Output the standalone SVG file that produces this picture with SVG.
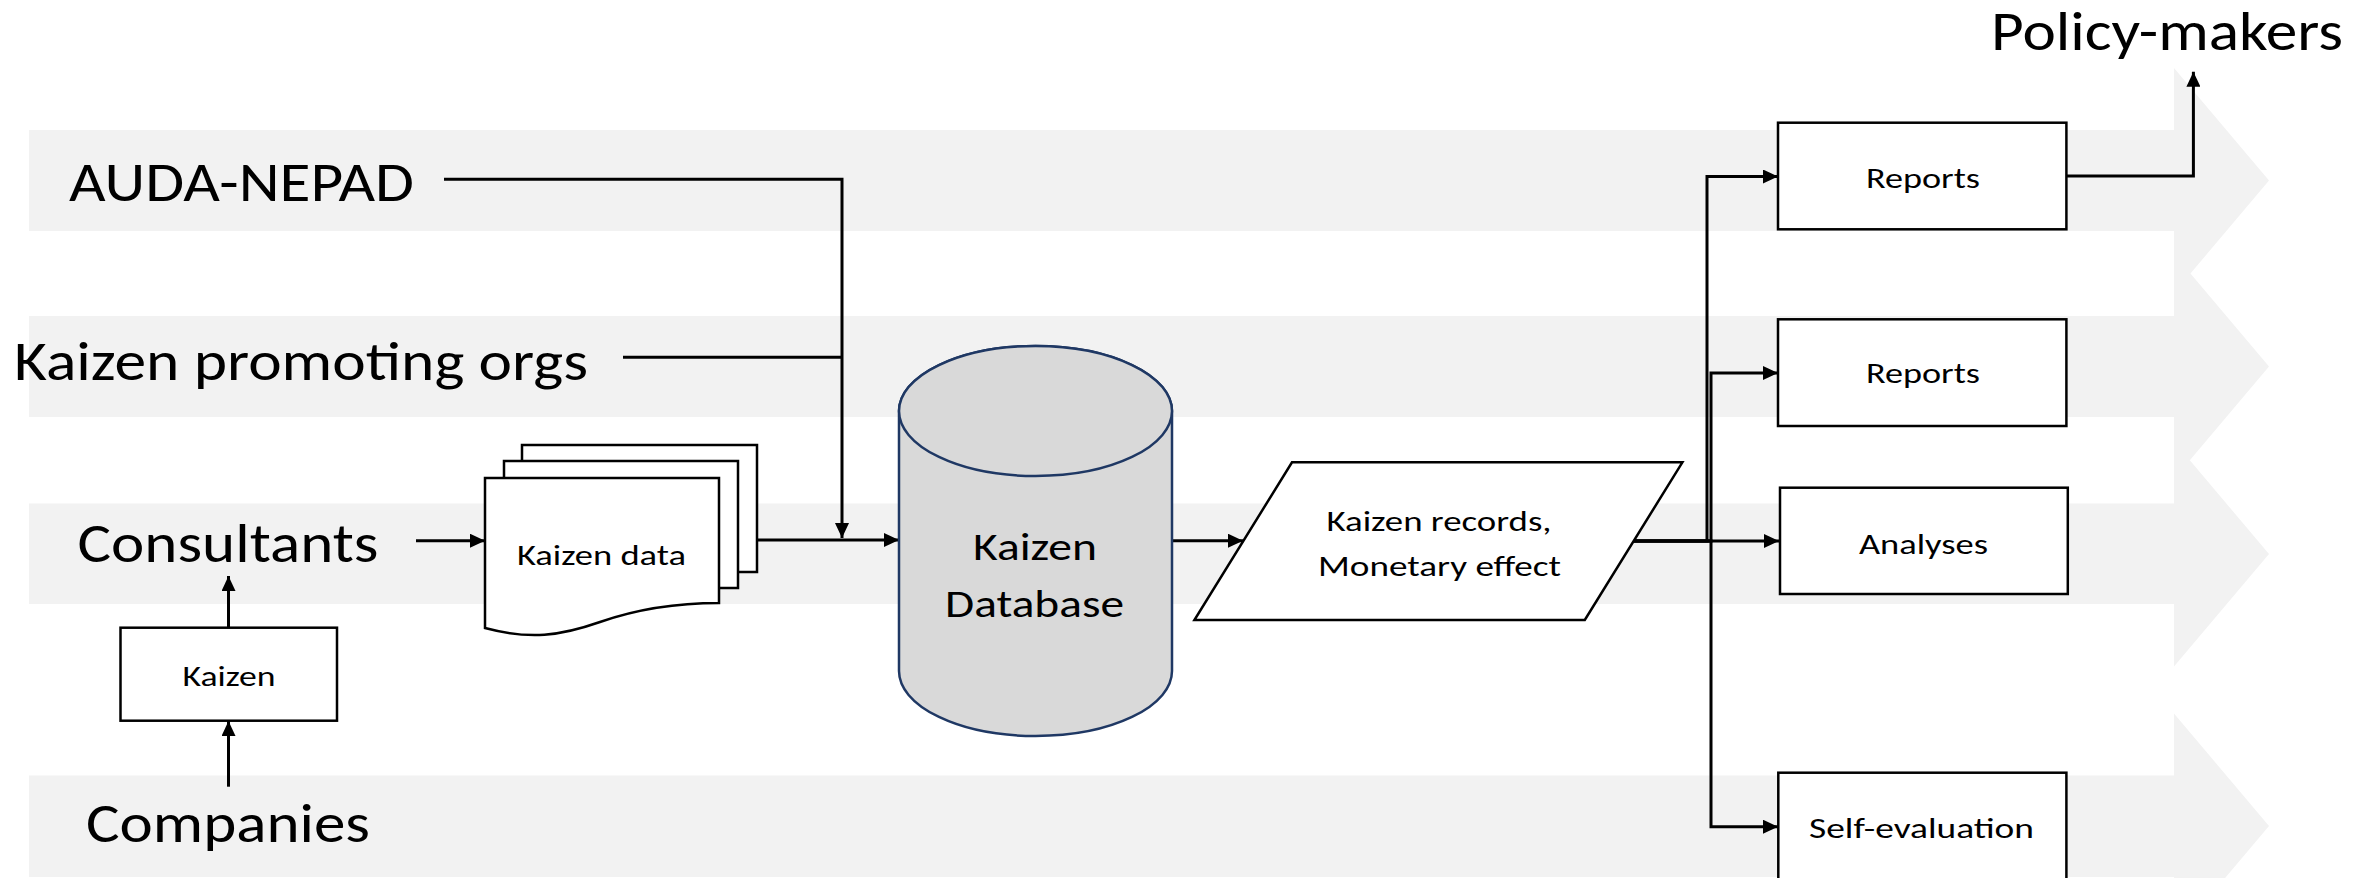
<svg xmlns="http://www.w3.org/2000/svg" width="2374" height="878" viewBox="0 0 2374 878">
<defs>
<style>
.band{fill:#f2f2f2}
.lbl{font-family:Carlito,Lato,"Open Sans",sans-serif;font-size:56px;fill:#000}
.sm{font-family:Carlito,Lato,"Open Sans",sans-serif;font-size:29px;fill:#000}
.md{font-family:Carlito,Lato,"Open Sans",sans-serif;font-size:39px;fill:#000}
.box{fill:#fff;stroke:#000;stroke-width:2.5}
.ln{fill:none;stroke:#000;stroke-width:3}
</style>
<marker id="ah" markerUnits="userSpaceOnUse" markerWidth="16" markerHeight="14" refX="15" refY="7" orient="auto">
<path d="M0,0 L15,7 L0,14 Z" fill="#000"/>
</marker>
</defs>
<rect width="2374" height="878" fill="#fff"/>
<g id="bands">
<path class="band" d="M29,130 H2174 V68 L2269,180.5 L2174,293 V231 H29 Z"/>
<path class="band" d="M29,316 H2174 V254 L2269,366.5 L2174,479 V417 H29 Z"/>
<path class="band" d="M29,503.5 H2174 V441.5 L2269,554 L2174,666.5 V604 H29 Z"/>
<path class="band" d="M29,775.5 H2174 V713.5 L2269,826 L2174,938.5 V877 H29 Z"/>
</g>
<g id="lane-labels">
<text class="lbl" x="69" y="200.7" textLength="345" lengthAdjust="spacingAndGlyphs">AUDA-NEPAD</text>
<text class="lbl" x="14" y="380" textLength="574" lengthAdjust="spacingAndGlyphs">Kaizen promoting orgs</text>
<text class="lbl" x="77.5" y="562" textLength="301" lengthAdjust="spacingAndGlyphs">Consultants</text>
<text class="lbl" x="86" y="842" textLength="284" lengthAdjust="spacingAndGlyphs">Companies</text>
<text class="lbl" x="1991" y="50" textLength="352" lengthAdjust="spacingAndGlyphs">Policy-makers</text>
</g>
<g id="connectors">
<path class="ln" d="M444,179.3 H842 V538" marker-end="url(#ah)"/>
<path class="ln" d="M623,357.3 H842"/>
<path class="ln" d="M416,540.7 H485" marker-end="url(#ah)"/>
<path class="ln" d="M757,540 H899" marker-end="url(#ah)"/>
<path class="ln" d="M1172,540.7 H1243" marker-end="url(#ah)"/>
<path class="ln" d="M228.5,627.7 V576" marker-end="url(#ah)"/>
<path class="ln" d="M228.5,786.7 V721" marker-end="url(#ah)"/>
<path class="ln" d="M2066,176 H2193.4 V71.7" marker-end="url(#ah)"/>
<path class="ln" d="M1633,541 H1707 V176.5 H1778" marker-end="url(#ah)"/>
<path class="ln" d="M1633,541 H1711 V373 H1778" marker-end="url(#ah)"/>
<path class="ln" d="M1633,541 H1779" marker-end="url(#ah)"/>
<path class="ln" d="M1633,541 H1711 V826.7 H1778" marker-end="url(#ah)"/>
</g>
<g id="kaizen-box">
<rect class="box" x="120.5" y="627.7" width="216.5" height="93"/>
<text class="sm" x="182.5" y="686" textLength="93" lengthAdjust="spacingAndGlyphs">Kaizen</text>
</g>
<g id="kaizen-data">
<rect class="box" x="522" y="445" width="235" height="127"/>
<rect class="box" x="504" y="461" width="234" height="127"/>
<path class="box" d="M485,478 H719 V603 C680,603 640,608 600,622 C560,636 530,640 485,628 Z"/>
<text class="sm" x="517" y="565" textLength="169" lengthAdjust="spacingAndGlyphs">Kaizen data</text>
</g>
<g id="kaizen-database">
<path d="M899,411 V671 A136.5,65 0 0 0 1172,671 V411 A136.5,65 0 0 0 899,411 Z" fill="#d9d9d9" stroke="#1f3864" stroke-width="2.5"/>
<ellipse cx="1035.5" cy="411" rx="136.5" ry="65" fill="#d9d9d9" stroke="#1f3864" stroke-width="2.5"/>
<text class="md" x="973" y="560" textLength="124" lengthAdjust="spacingAndGlyphs">Kaizen</text>
<text class="md" x="945" y="617" textLength="179" lengthAdjust="spacingAndGlyphs">Database</text>
</g>
<g id="kaizen-records">
<path class="box" d="M1292,462.3 H1682.4 L1584.8,620 H1194.4 Z"/>
<text class="sm" x="1326.5" y="530.7" textLength="225" lengthAdjust="spacingAndGlyphs">Kaizen records,</text>
<text class="sm" x="1318" y="576" textLength="243" lengthAdjust="spacingAndGlyphs">Monetary effect</text>
</g>
<g id="reports-1">
<rect class="box" x="1778" y="122.7" width="288.4" height="106.6"/>
<text class="sm" x="1866" y="188.3" textLength="114" lengthAdjust="spacingAndGlyphs">Reports</text>
</g>
<g id="reports-2">
<rect class="box" x="1778" y="319.3" width="288.4" height="106.7"/>
<text class="sm" x="1866" y="383.3" textLength="114" lengthAdjust="spacingAndGlyphs">Reports</text>
</g>
<g id="analyses">
<rect class="box" x="1780" y="487.7" width="287.8" height="106.3"/>
<text class="sm" x="1859" y="554" textLength="129" lengthAdjust="spacingAndGlyphs">Analyses</text>
</g>
<g id="self-evaluation">
<rect class="box" x="1778.3" y="772.7" width="288.1" height="110"/>
<text class="sm" x="1809" y="838.3" textLength="225" lengthAdjust="spacingAndGlyphs">Self-evaluation</text>
</g>
</svg>
